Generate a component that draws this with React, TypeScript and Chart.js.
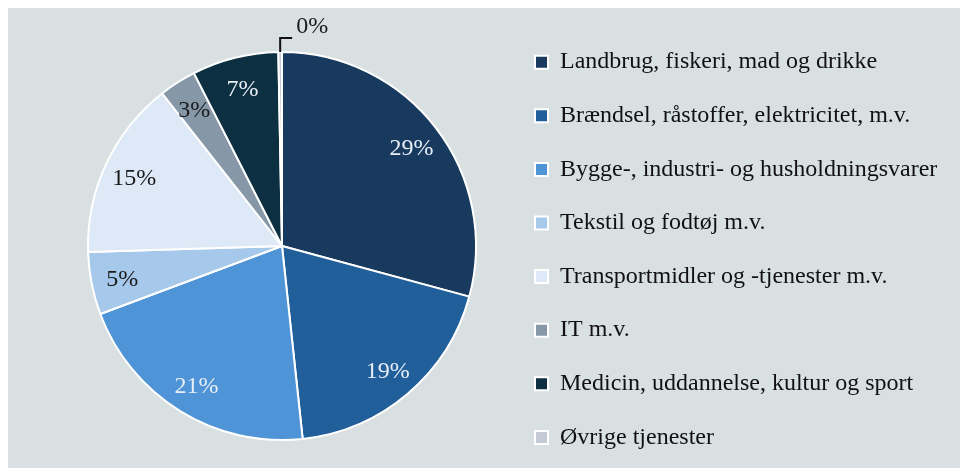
import React, { useEffect, useRef } from "react";
import { Chart, registerables } from "chart.js";

Chart.register(...registerables);

const categories = [
  "Landbrug, fiskeri, mad og drikke",
  "Brændsel, råstoffer, elektricitet, m.v.",
  "Bygge-, industri- og husholdningsvarer",
  "Tekstil og fodtøj m.v.",
  "Transportmidler og -tjenester m.v.",
  "IT m.v.",
  "Medicin, uddannelse, kultur og sport",
  "Øvrige tjenester",
];
const shares = [29.2, 19.1, 21.0, 5.2, 14.9, 3.1, 7.2, 0.3];
const percentLabels = ["29%", "19%", "21%", "5%", "15%", "3%", "7%", "0%"];
const sliceColors = [
  "#183a5f",
  "#215f9b",
  "#4f94d7",
  "#a6c8eb",
  "#dde9f6",
  "#8697a8",
  "#0c2f42",
  "#c3cad3",
];
const labelColors = [
  "#e6edf5",
  "#e6edf5",
  "#e6edf5",
  "#1a1a1a",
  "#1a1a1a",
  "#1a1a1a",
  "#e6edf5",
  "#1a1a1a",
];

const FONT = "'Liberation Serif', 'Times New Roman', serif";

const labelPlugin = {
  id: "sliceLabels",
  afterDatasetsDraw(chart: any) {
    const meta = chart.getDatasetMeta(0);
    const ctx = chart.ctx;
    ctx.save();
    ctx.font = `24px ${FONT}`;
    meta.data.forEach((arc: any, i: number) => {
      const { x, y, startAngle, endAngle, outerRadius } = arc.getProps(
        ["x", "y", "startAngle", "endAngle", "outerRadius"],
        true
      );
      const mid = (startAngle + endAngle) / 2;
      if (i === meta.data.length - 1) {
        // small slice: label outside with leader line
        const ex = x + Math.cos(mid) * outerRadius;
        const ey = y + Math.sin(mid) * outerRadius;
        ctx.strokeStyle = "#111";
        ctx.lineWidth = 2;
        ctx.beginPath();
        ctx.moveTo(ex, ey);
        ctx.lineTo(ex, ey - 14);
        ctx.lineTo(ex + 12, ey - 14);
        ctx.stroke();
        ctx.fillStyle = labelColors[i];
        ctx.textAlign = "left";
        ctx.textBaseline = "alphabetic";
        ctx.fillText(percentLabels[i], ex + 16, ey - 19);
        return;
      }
      const r = outerRadius * 0.84;
      ctx.fillStyle = labelColors[i];
      ctx.textAlign = "center";
      ctx.textBaseline = "middle";
      ctx.fillText(percentLabels[i], x + Math.cos(mid) * r, y + Math.sin(mid) * r + 2);
    });
    ctx.restore();
  },
};

export default function App() {
  const canvasRef = useRef<HTMLCanvasElement | null>(null);

  useEffect(() => {
    document.documentElement.style.overflow = "hidden";
    const canvas = canvasRef.current;
    if (!canvas) return;
    const chart = new Chart(canvas, {
      type: "pie",
      data: {
        labels: categories,
        datasets: [
          {
            data: shares,
            backgroundColor: sliceColors,
            borderColor: "#ffffff",
            borderWidth: 2,
            radius: 194,
          } as any,
        ],
      },
      options: {
        animation: false,
        responsive: false,
        maintainAspectRatio: false,
        layout: {
          padding: { top: 6, bottom: 0, left: 50.6, right: 22.6 },
        },
        plugins: {
          tooltip: { enabled: false },
          legend: {
            position: "right",
            align: "end",
            maxWidth: 440,
            labels: {
              boxWidth: 13,
              boxHeight: 13,
              padding: 29.6,
              color: "#111111",
              font: { family: FONT, size: 24 },
            },
          },
        },
      } as any,
      plugins: [labelPlugin],
    });
    return () => chart.destroy();
  }, []);

  return (
    <div
      style={{
        width: 960,
        height: 461,
        marginTop: -1,
        overflow: "hidden",
        background: "#d9e0e2",
      }}
    >
      <canvas ref={canvasRef} width={960} height={472} style={{ display: "block" }} />
    </div>
  );
}
